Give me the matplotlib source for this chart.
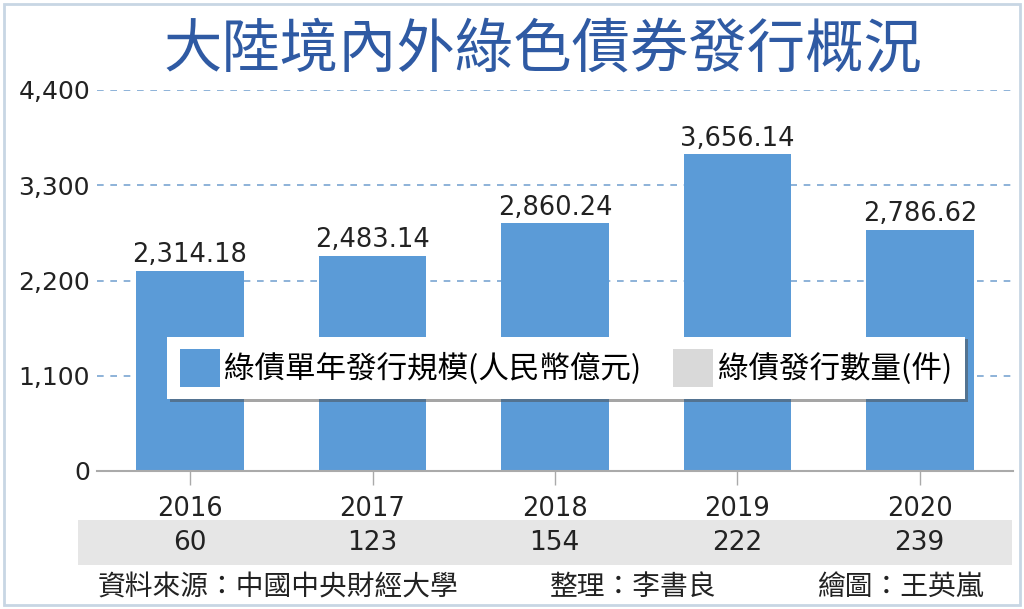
import matplotlib
matplotlib.use('Agg')
import matplotlib.pyplot as plt
from matplotlib.patches import Patch, Rectangle

plt.rcParams['font.family'] = ['Noto Sans CJK TC', 'DejaVu Sans']

title = '大陸境內外綠色債券發行概況'
years = ['2016', '2017', '2018', '2019', '2020']
amounts = [2314.18, 2483.14, 2860.24, 3656.14, 2786.62]
counts = [60, 123, 154, 222, 239]
yticks = [0, 1100, 2200, 3300, 4400]
legend_amount = '綠債單年發行規模(人民幣億元)'
legend_count = '綠債發行數量(件)'
source = '資料來源：中國中央財經大學'
editor = '整理：李書良'
artist = '繪圖：王英嵐'

bar_color = '#5b9bd7'
grid_color = '#7aa6d2'
title_color = '#2f5aa3'
num_font = 'DejaVu Sans'


def main():
    fig = plt.figure(figsize=(10.24, 6.09), dpi=100)
    W, H = 1024, 609

    # outer frame
    fig.patches.append(Rectangle((4 / W, 4 / H), 1016 / W, 601 / H, transform=fig.transFigure,
                                 fill=False, edgecolor='#c8d6e4', linewidth=2))

    fig.text(543 / W, 1 - 50 / H, title, ha='center', va='center', fontsize=42,
             fontweight='medium', color=title_color)

    ax = fig.add_axes([97 / W, 1 - 471 / H, 916 / W, 381 / H])
    x = list(range(len(years)))
    bars = ax.bar(x, amounts, width=0.59, color=bar_color, zorder=2)
    ax.set_xlim(-0.51, 4.51)
    ax.set_ylim(0, 4400)
    ax.set_yticks(yticks)
    ax.set_yticklabels(['{:,}'.format(v) for v in yticks], fontsize=18, color='#222222',
                       family=num_font)
    ax.yaxis.grid(True, linestyle=(0, (4, 4)), color=grid_color, linewidth=1.2, zorder=0)
    ax.tick_params(axis='y', length=0, pad=5)
    ax.set_xticks(x)
    ax.set_xticklabels(years, fontsize=18.5, color='#222222', family=num_font)
    ax.tick_params(axis='x', length=10, width=1, color='#aaaaaa', pad=8, direction='out')
    for s in ['top', 'right', 'left']:
        ax.spines[s].set_visible(False)
    ax.spines['bottom'].set_color('#aaaaaa')
    ax.spines['bottom'].set_linewidth(1.5)

    for b, v in zip(bars, amounts):
        ax.text(b.get_x() + b.get_width() / 2, v + 30, '{:,.2f}'.format(v),
                ha='center', va='bottom', fontsize=18.5, color='#222222', family=num_font)

    handles = [Patch(facecolor=bar_color), Patch(facecolor='#d9d9d9')]
    leg = ax.legend(handles, [legend_amount, legend_count], ncol=2, loc='center left',
                    bbox_to_anchor=(70 / 916, (471 - 368) / 381), fontsize=22,
                    frameon=True, fancybox=False, shadow=True, borderpad=0.42,
                    handlelength=1.3, handleheight=1.5, handletextpad=0.15,
                    columnspacing=1.05, edgecolor='white', borderaxespad=0)
    leg.get_frame().set_linewidth(0)
    leg.set_zorder(5)

    # count row
    ax2 = fig.add_axes([78 / W, 1 - 565 / H, 934 / W, 45 / H])
    ax2.set_facecolor('#e6e6e6')
    ax2.set_xlim(-0.51 - 19 / 182.6, 4.51)
    ax2.set_ylim(0, 1)
    for i, c in enumerate(counts):
        ax2.text(i, 0.48, str(c), ha='center', va='center', fontsize=19, color='#222222',
                 family=num_font)
    ax2.set_xticks([])
    ax2.set_yticks([])
    for s in ax2.spines.values():
        s.set_visible(False)

    fy = 1 - 587 / H
    fig.text(98 / W, fy, source, ha='left', va='center', fontsize=20, color='#222222')
    fig.text(550 / W, fy, editor, ha='left', va='center', fontsize=20, color='#222222')
    fig.text(817 / W, fy, artist, ha='left', va='center', fontsize=20, color='#222222')

    fig.savefig('out.png', dpi=100)


if __name__ == '__main__':
    main()
